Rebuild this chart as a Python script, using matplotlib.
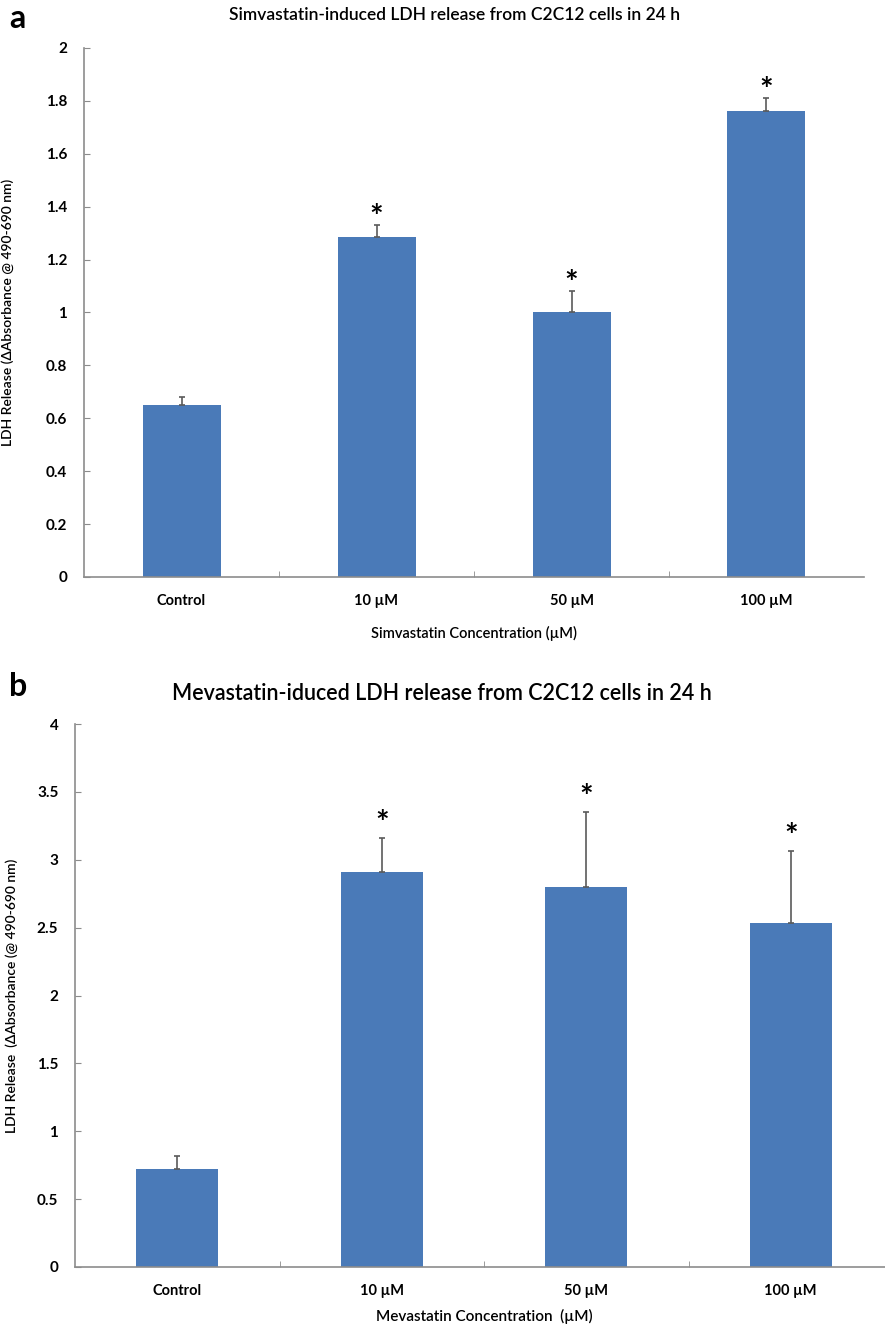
import numpy as np
import matplotlib.pyplot as plt

plt.rcParams['font.family'] = ['Lato', 'DejaVu Sans']

# data
categories = ['Control', '10 µM', '50 µM', '100 µM']
simva_mean = [0.65, 1.285, 1.0, 1.76]
simva_err = [0.03, 0.045, 0.08, 0.05]
mevas_mean = [0.72, 2.91, 2.80, 2.535]
mevas_err = [0.10, 0.25, 0.55, 0.53]
significant = [False, True, True, True]

bar_color = '#4a7ab8'
axis_color = '#8c8c8c'

fig = plt.figure(figsize=(8.85, 13.29), dpi=100)
W, H = 885, 1329


def px_axes(left, right, top, bottom):
    return fig.add_axes([left / W, 1 - bottom / H, (right - left) / W, (bottom - top) / H])


def draw_panel(ax, means, errs, ymax, ystep, star_off):
    x = np.arange(len(categories))
    ax.bar(x, means, width=0.4, color=bar_color, zorder=2)
    ax.errorbar(x, means, yerr=[np.zeros(len(errs)), errs], fmt='none',
                ecolor='#5a5a5a', elinewidth=1.2, capsize=2.5, capthick=1.2, zorder=3)
    for xi, m, e, s in zip(x, means, errs, significant):
        if s:
            ax.annotate('*', xy=(xi, m + e), xytext=(0, star_off), textcoords='offset points',
                        ha='center', va='center', fontsize=23, fontweight='bold')
    ax.set_xlim(-0.5, len(categories) - 0.5)
    ax.set_ylim(0, ymax)
    yt = np.arange(0, ymax + ystep / 2, ystep)
    ax.set_yticks(yt)
    ax.set_yticklabels(['%g' % round(v, 2) for v in yt])
    ax.set_xticks(x)
    ax.set_xticklabels(categories)
    ax.set_xticks(np.arange(0.5, len(categories) - 0.5, 1), minor=True)
    ax.tick_params(axis='x', which='major', length=0, pad=12, labelsize=10.5)
    ax.tick_params(axis='x', which='minor', direction='in', length=4, color=axis_color)
    ax.tick_params(axis='y', direction='in', length=4, color=axis_color, pad=12, labelsize=11)
    for lab in ax.get_xticklabels() + ax.get_yticklabels():
        lab.set_fontweight('bold')
    for sp in ['top', 'right']:
        ax.spines[sp].set_visible(False)
    for sp in ['left', 'bottom']:
        ax.spines[sp].set_color(axis_color)
        ax.spines[sp].set_linewidth(1.2)


# panel a
ax1 = px_axes(84, 864, 48, 577)
draw_panel(ax1, simva_mean, simva_err, 2, 0.2, 5)
ax1.set_ylabel('LDH Release (ΔAbsorbance @ 490-690 nm)', fontsize=10, fontweight='semibold')
ax1.set_xlabel('Simvastatin Concentration (µM)', fontsize=10.5, labelpad=13, fontweight='semibold')
fig.text(9 / W, 1 - 18 / H, 'a', fontsize=23, fontweight='bold', va='center', ha='left')
fig.text(455 / W, 1 - 15 / H, 'Simvastatin-induced LDH release from C2C12 cells in 24 h',
         fontsize=12.5, ha='center', va='center', fontweight='semibold')

# panel b
ax2 = px_axes(75, 893, 724, 1267)
draw_panel(ax2, mevas_mean, mevas_err, 4, 0.5, 10)
ax2.set_ylabel('LDH Release  (ΔAbsorbance (@ 490-690 nm)', fontsize=10, fontweight='semibold')
ax2.set_xlabel('Mevastatin Concentration  (µM)', fontsize=11, labelpad=8, fontweight='semibold')
fig.text(9 / W, 1 - 687 / H, 'b', fontsize=23, fontweight='bold', va='center', ha='left')
fig.text(442 / W, 1 - 693 / H, 'Mevastatin-iduced LDH release from C2C12 cells in 24 h',
         fontsize=15.5, ha='center', va='center', fontweight='semibold')

# place y labels at fixed pixel x
for ax, xpix in [(ax1, 14), (ax2, 18)]:
    bb = ax.get_position()
    ax.yaxis.set_label_coords((xpix / W - bb.x0) / bb.width, 0.5)

fig.savefig('out.png', dpi=100)
